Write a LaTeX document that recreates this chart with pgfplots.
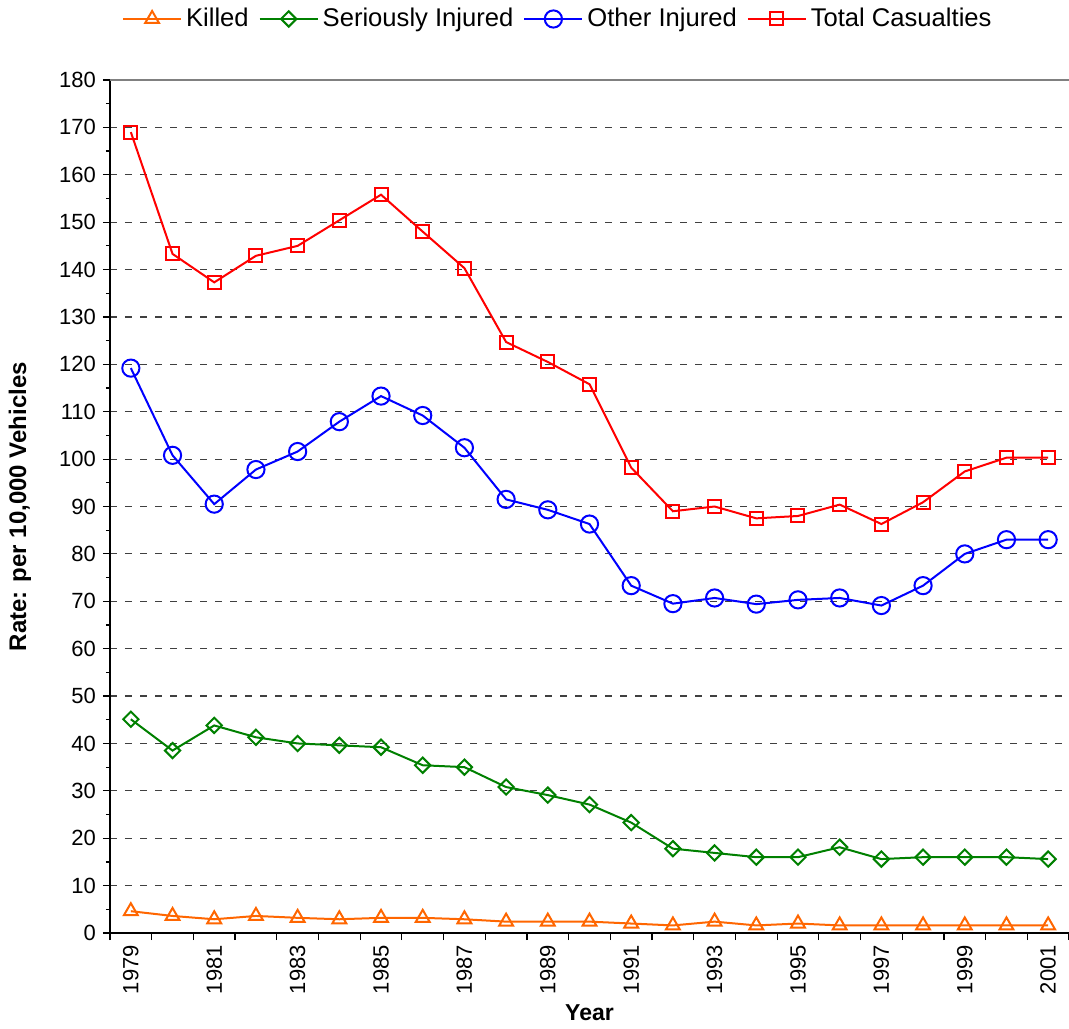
\documentclass[border=0pt]{standalone}
\usepackage{pgfplots}
\pgfplotsset{compat=1.18}
\usepackage{fontspec}
\setmainfont{Liberation Sans}
\definecolor{cKilled}{RGB}{255,102,0}
\definecolor{cSer}{RGB}{0,128,0}
\definecolor{cOther}{RGB}{0,0,255}
\definecolor{cTotal}{RGB}{255,0,0}
\begin{document}
\begin{tikzpicture}
\begin{axis}[
  scale only axis,
  width=479.5pt, height=426.5pt,
  xmin=-0.5, xmax=22.5, ymin=0, ymax=180,
  axis lines=left,
  axis line style={-, black, line width=0.7pt},
  ytick={0,10,...,180},
  minor ytick={5,15,...,175},
  xtick={-0.5,0.5,...,22.5},
  xticklabels={},
  extra x ticks={0,2,...,22},
  extra x tick labels={1979,1981,1983,1985,1987,1989,1991,1993,1995,1997,1999,2001},
  extra x tick style={major tick length=0pt, grid=none},
  tick align=outside,
  major tick length=3.5pt,
  minor tick length=2pt,
  tick style={black, line width=0.6pt},
  xticklabel shift=2.5pt,
  x tick label style={rotate=90, anchor=east, font=\fontsize{11}{13}\selectfont},
  y tick label style={font=\fontsize{11}{13}\selectfont},
  /pgf/number format/assume math mode=true,
  ymajorgrids,
  major grid style={black!75, line width=0.6pt, dash pattern=on 3.5pt off 4pt},
  xlabel={\textbf{Year}},
  ylabel={\textbf{Rate: per 10,000 Vehicles}},
  xlabel style={font=\fontsize{11.5}{13}\selectfont, at={(axis description cs:0.5,-0.094)}, anchor=center},
  ylabel style={font=\fontsize{12}{14}\selectfont, at={(axis description cs:-0.094,0.5)}, anchor=center, rotate=0},
  legend columns=4,
  legend style={draw=none, fill=none, font=\fontsize{12.8}{15}\selectfont, at={(axis description cs:0.468,1.094)}, anchor=north,
    /tikz/every even column/.append style={column sep=3pt},
    /tikz/every odd column/.append style={column sep=0pt}},
  legend image code/.code={\draw[mark repeat=2,mark phase=2] plot coordinates {(0pt,0pt)(14.5pt,0pt)(29pt,0pt)};},
  every axis plot/.append style={line width=1pt},
]
\addplot[cKilled, mark=triangle, mark size=4pt, mark options={solid, line width=1pt}] coordinates {
(0,4.6)(1,3.6)(2,2.9)(3,3.6)(4,3.2)(5,2.9)(6,3.2)(7,3.2)(8,2.9)(9,2.4)(10,2.4)(11,2.4)
(12,2.0)(13,1.6)(14,2.4)(15,1.6)(16,2.0)(17,1.6)(18,1.6)(19,1.6)(20,1.6)(21,1.6)(22,1.6)};
\addlegendentry{Killed}
\addplot[cSer, mark=square, mark size=2.7pt, mark options={solid, rotate=45, line width=1pt}] coordinates {
(0,45.1)(1,38.5)(2,43.8)(3,41.3)(4,40.0)(5,39.6)(6,39.2)(7,35.4)(8,35.0)(9,30.8)(10,29.1)(11,27.1)
(12,23.3)(13,17.8)(14,16.9)(15,16.0)(16,16.0)(17,18.1)(18,15.6)(19,16.0)(20,16.0)(21,16.0)(22,15.6)};
\addlegendentry{Seriously Injured}
\addplot[cOther, mark=o, mark size=4.3pt, mark options={solid, line width=1pt}] coordinates {
(0,119.2)(1,100.8)(2,90.5)(3,97.8)(4,101.6)(5,107.9)(6,113.3)(7,109.2)(8,102.4)(9,91.5)(10,89.3)(11,86.3)
(12,73.3)(13,69.5)(14,70.7)(15,69.4)(16,70.3)(17,70.7)(18,69.1)(19,73.3)(20,80.0)(21,83.0)(22,83.0)};
\addlegendentry{Other Injured}
\addplot[cTotal, mark=square, mark size=3.25pt, mark options={solid, line width=1pt}] coordinates {
(0,169.0)(1,143.3)(2,137.3)(3,142.9)(4,145.0)(5,150.4)(6,155.8)(7,148.0)(8,140.3)(9,124.7)(10,120.5)(11,115.8)
(12,98.2)(13,89.0)(14,90.0)(15,87.5)(16,88.0)(17,90.4)(18,86.3)(19,90.9)(20,97.4)(21,100.3)(22,100.3)};
\addlegendentry{Total Casualties}
\draw[gray, line width=1pt] (rel axis cs:0,1) -- (rel axis cs:1,1);
\end{axis}
\pgfresetboundingbox
\path ([xshift=-55pt,yshift=-47.5pt]current axis.south west) rectangle ([yshift=40pt]current axis.north east);
\end{tikzpicture}
\end{document}
